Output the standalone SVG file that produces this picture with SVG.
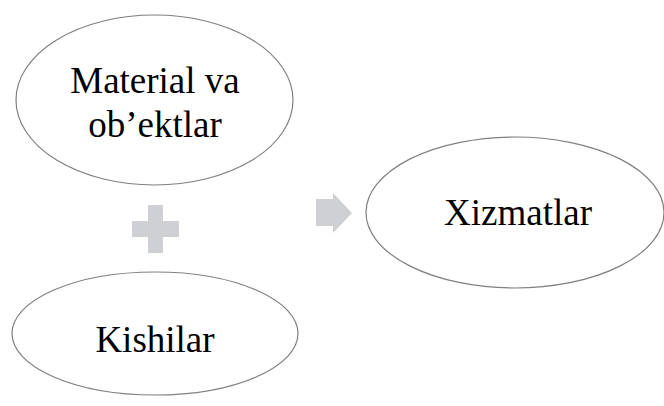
<svg xmlns="http://www.w3.org/2000/svg" width="664" height="406" viewBox="0 0 664 406">
  <style>
    .node ellipse { fill: #ffffff; stroke: #7f7f7f; stroke-width: 1.2; }
    .node text { font-family: "Liberation Serif", "Times New Roman", serif; font-size: 37px; fill: #000000; text-anchor: middle; }
    .sym { fill: #cfd0d3; }
  </style>
  <rect width="664" height="406" fill="#ffffff"/>

  <g id="material" class="node">
    <ellipse cx="154.5" cy="100" rx="138.5" ry="85"/>
    <text x="155" y="93">Material va</text>
    <text x="155" y="137">ob’ektlar</text>
  </g>

  <g id="kishilar" class="node">
    <ellipse cx="155" cy="333.5" rx="143" ry="61.5"/>
    <text x="155" y="352">Kishilar</text>
  </g>

  <g id="xizmatlar" class="node">
    <ellipse cx="515" cy="212.5" rx="149" ry="75.5"/>
    <text x="518" y="225">Xizmatlar</text>
  </g>

  <g id="connectors">
    <!-- plus sign between the two inputs -->
    <path class="sym" d="M148,205 H163 V221 H179 V237 H163 V253 H148 V237 H132 V221 H148 Z"/>
    <!-- arrow toward the result -->
    <path class="sym" d="M316,199 H333 V193 L352,213 L333,233 V226 H316 Z"/>
  </g>
</svg>
